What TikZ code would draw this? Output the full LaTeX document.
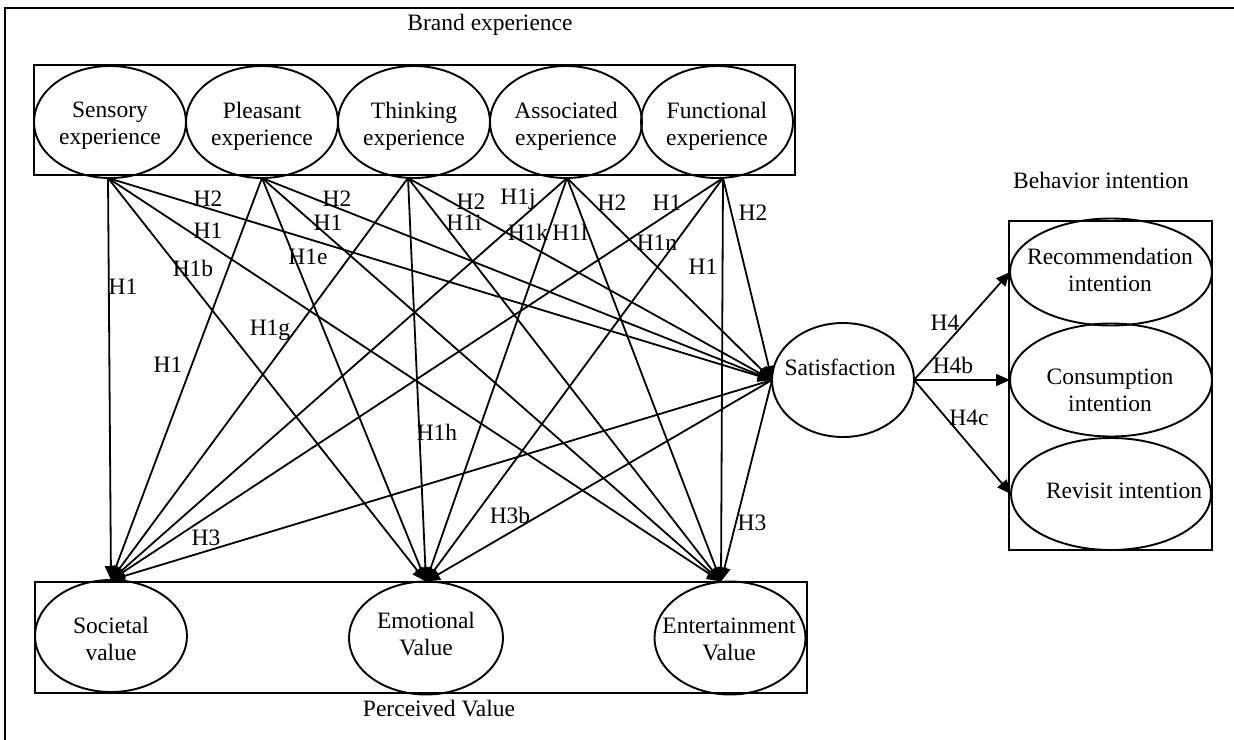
\documentclass[tikz,border=0pt]{standalone}
\usepackage{fontspec}
\setmainfont{Liberation Serif}
\usetikzlibrary{arrows.meta,shapes.geometric}
\begin{document}
\begin{tikzpicture}[x=1pt,y=-1pt,
  every node/.style={font=\fontsize{23.5}{27}\selectfont, inner sep=0pt, outer sep=0pt},
  ell/.style n args={2}{draw, ellipse, line width=1.9pt, minimum width=#1, minimum height=#2},
  txt/.style={align=center},
  boxline/.style={line width=1.9pt},
  arr/.style={line width=1.8pt, -{Triangle[length=14pt,width=12pt]}},
  lab/.style={}]
\useasboundingbox (0,0) rectangle (1234,739);
\clip (0,0) rectangle (1234,739);
% outer frame
\draw[boxline] (5,760) -- (5,8) -- (1260,8);
% titles
\node (tBrand) at (490,25) {Brand experience};
\node (tBehav) at (1101,180) {Behavior intention};
\node (tPerc) at (439,709) {Perceived Value};
% group boxes
\draw[boxline] (34,65) rectangle (795,175);
\draw[boxline] (35,582) rectangle (807,693);
\draw[boxline] (1009,221) rectangle (1212,550);
% top ellipses
\node[ell={152pt}{112pt}] (sen) at (110,122) {};
\node[ell={152pt}{112pt}] (ple) at (262,122) {};
\node[ell={152pt}{112pt}] (thi) at (414,122) {};
\node[ell={152pt}{112pt}] (ass) at (566,122) {};
\node[ell={152pt}{112pt}] (fun) at (717,122) {};
\node[txt] (senT) at (110,126) {Sensory\\experience};
\node[txt] (pleT) at (262,126) {Pleasant\\experience};
\node[txt] (thiT) at (414,126) {Thinking\\experience};
\node[txt] (assT) at (566,126) {Associated\\experience};
\node[txt] (funT) at (717,126) {Functional\\experience};
% satisfaction
\node[ell={142pt}{114pt}] (sat) at (843,380) {};
\node (satT) at (840,367) {Satisfaction};
% behavior intention
\node[ell={202pt}{107pt}] (rec) at (1111,272) {};
\node[ell={202pt}{113pt}] (con) at (1111,380) {};
\node[ell={200pt}{112pt}] (rev) at (1111,494) {};
\node[txt] (recT) at (1110,270) {Recommendation\\intention};
\node[txt] (conT) at (1110,390) {Consumption\\intention};
\node (revT) at (1124,491) {Revisit intention};
% perceived value
\node[ell={152pt}{112pt}] (soc) at (111,636) {};
\node[ell={154pt}{113pt}] (emo) at (426,638) {};
\node[ell={151pt}{113pt}] (ent) at (730,638) {};
\node[txt] (socT) at (111,639) {Societal\\value};
\node[txt] (emoT) at (426,634) {Emotional\\Value};
\node[txt] (entT) at (729,639) {Entertainment\\Value};
% connector end points on the nodes
\coordinate (senO) at ([xshift=-2pt]sen.south);
\coordinate (pleO) at (ple.south);
\coordinate (thiO) at ([xshift=-6pt]thi.south);
\coordinate (assO) at ([xshift=1pt]ass.south);
\coordinate (funO) at ([xshift=6pt]fun.south);
\coordinate (entI) at ([xshift=-9pt]ent.north);
% connectors from brand experience
\foreach \s in {senO,pleO,thiO,assO,funO}{
  \draw[arr] (\s) -- (soc.north);
  \draw[arr] (\s) -- (emo.north);
  \draw[arr] (\s) -- (entI);
  \draw[arr] (\s) -- (sat.west);
}
% satisfaction - perceived value
\draw[arr] (sat.west) -- (soc.north);
\draw[arr] (sat.west) -- (emo.north);
\draw[arr] (sat.west) -- (entI);
% satisfaction - behavior intention
\draw[arr] (sat.east) -- (rec.west);
\draw[arr] (sat.east) -- (con.west);
\draw[arr] (sat.east) -- (rev.west);
% hypothesis labels
\node[lab] (l1) at (208,199) {H2};
\node[lab] (l2) at (208,231) {H1};
\node[lab] (l3) at (193,268) {H1b};
\node[lab] (l4) at (123,287) {H1};
\node[lab] (l5) at (337,199) {H2};
\node[lab] (l6) at (328,223) {H1};
\node[lab] (l7) at (308,257) {H1e};
\node[lab] (l8) at (270,330) {H1g};
\node[lab] (l9) at (168,365) {H1};
\node[lab] (l10) at (471,202) {H2};
\node[lab] (l11) at (464,223) {H1i};
\node[lab] (l12) at (518,199) {H1j};
\node[lab] (l13) at (528,232) {H1k};
\node[lab] (l14) at (570,232) {H1l};
\node[lab] (l15) at (612,203) {H2};
\node[lab] (l16) at (667,203) {H1};
\node[lab] (l17) at (657,243) {H1n};
\node[lab] (l18) at (703,267) {H1};
\node[lab] (l19) at (753,213) {H2};
\node[lab] (l20) at (437,432) {H1h};
\node[lab] (l21) at (206,538) {H3};
\node[lab] (l22) at (510,515) {H3b};
\node[lab] (l23) at (752,523) {H3};
\node[lab] (l24) at (945,323) {H4};
\node[lab] (l25) at (953,365) {H4b};
\node[lab] (l26) at (969,418) {H4c};
\end{tikzpicture}
\end{document}
